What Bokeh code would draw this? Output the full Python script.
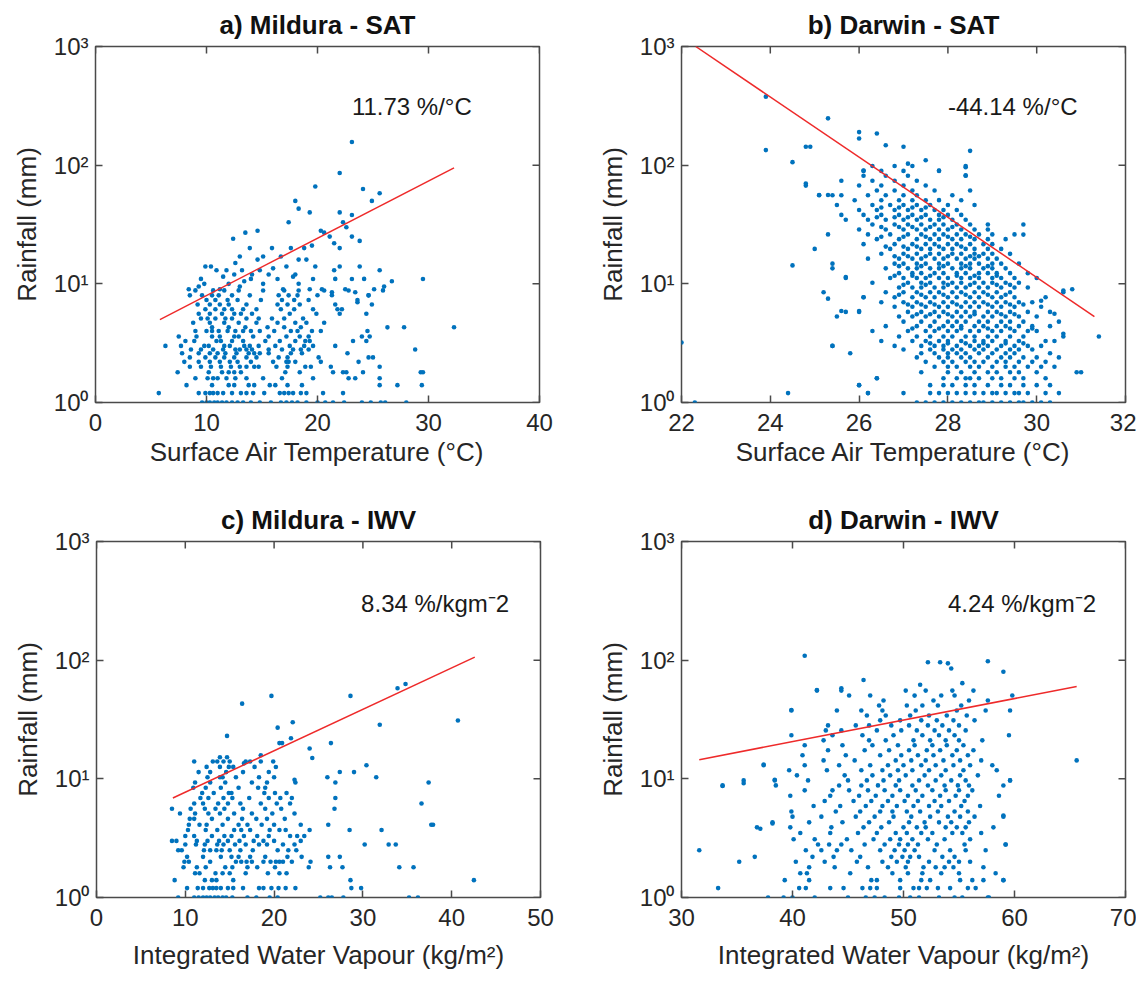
import math
from bokeh.plotting import figure
from bokeh.layouts import column, row
from bokeh.models import Range1d, FixedTicker, Label, CustomJSTickFormatter
from bokeh.embed import file_html
from bokeh.resources import INLINE

# ---------------- data ----------------
titles = ["a) Mildura - SAT", "b) Darwin - SAT", "c) Mildura - IWV", "d) Darwin - IWV"]
x_labels = ["Surface Air Temperature (°C)", "Surface Air Temperature (°C)",
            "Integrated Water Vapour (kg/m²)", "Integrated Water Vapour (kg/m²)"]
y_label = "Rainfall (mm)"
notes = ["11.73 %/°C", "-44.14 %/°C", "8.34 %/kgm⁻2", "4.24 %/kgm⁻2"]
y_ticks = [1, 10, 100, 1000]
a_xticks = [0, 10, 20, 30, 40]
b_xticks = [22, 24, 26, 28, 30, 32]
c_xticks = [0, 10, 20, 30, 40, 50]
d_xticks = [30, 40, 50, 60, 70]

# fitted regression lines (end points)
a_fit_x = [5.8, 32.3]
a_fit_y = [5.0, 95.0]
b_fit_x = [22.32, 31.3]
b_fit_y = [1000.0, 5.3]
c_fit_x = [8.6, 42.6]
c_fit_y = [6.9, 106.0]
d_fit_x = [31.6, 65.6]
d_fit_y = [14.5, 60.0]

# rows: (rainfall mm, [x values])
a_rows = [
    (1.0, [9.6, 10.0, 10.3, 10.7, 11.0, 11.4, 11.8, 12.3, 12.8, 13.3, 14.0, 14.8, 15.8, 16.7, 17.2, 17.7, 18.2, 19.0, 20.0, 20.7, 21.4, 22.4, 24.0, 24.8, 25.7, 26.1, 28.0]),
    (1.2, [5.7, 9.3, 9.9, 10.3, 10.6, 11.0, 11.5, 12.3, 13.1, 13.6, 14.2, 15.2, 16.6, 17.0, 17.4, 17.8, 18.5, 19.0, 20.5, 22.3]),
    (1.4, [8.2, 10.5, 12.0, 12.5, 13.8, 14.3, 15.7, 16.2, 17.3, 18.6, 25.6, 27.2, 29.4]),
    (1.6, [9.0, 10.1, 10.6, 11.0, 11.8, 12.6, 13.6, 15.1, 16.8, 19.6, 22.8, 23.4, 25.6]),
    (1.8, [7.4, 10.2, 11.4, 12.0, 12.5, 13.1, 17.1, 18.4, 21.4, 22.3, 22.6, 24.1, 29.3, 29.5]),
    (2.0, [8.5, 9.5, 10.4, 11.3, 12.2, 13.0, 13.6, 14.3, 14.7, 16.3, 17.3, 18.9, 19.4, 21.2, 25.6]),
    (2.2, [8.0, 9.3, 10.3, 11.2, 12.1, 12.8, 14.0, 16.0, 17.2, 17.4, 18.0, 20.3, 23.7]),
    (2.4, [8.5, 9.9, 10.8, 11.6, 12.5, 13.6, 14.5, 16.5, 17.3, 20.1, 24.6, 25.0]),
    (2.6, [7.8, 9.3, 10.3, 11.0, 11.7, 12.7, 13.8, 14.3, 14.8, 15.6, 17.6, 18.6, 22.7]),
    (2.8, [8.6, 9.5, 10.6, 11.5, 12.6, 13.0, 13.6, 14.1, 15.6, 16.8, 17.8, 18.5, 19.2, 28.8]),
    (3.0, [6.3, 7.7, 9.8, 10.2, 11.6, 12.1, 13.4, 13.9, 14.7, 16.2, 17.5, 18.8, 19.6, 21.6]),
    (3.3, [8.1, 8.9, 10.9, 11.3, 12.3, 13.3, 15.3, 16.6, 18.0, 18.9, 19.3, 23.2, 24.4]),
    (3.6, [7.5, 9.1, 10.5, 11.2, 12.5, 12.9, 14.2, 15.6, 17.2, 18.4, 19.2, 24.0, 24.7]),
    (4.0, [9.0, 10.0, 10.5, 11.1, 11.9, 12.6, 13.3, 14.0, 14.8, 16.1, 17.6, 18.2, 19.5, 20.3, 24.5]),
    (4.3, [10.5, 12.0, 13.5, 15.5, 17.0, 18.5, 26.3, 27.8, 32.3]),
    (4.7, [8.8, 10.3, 11.6, 12.9, 14.5, 16.4, 18.0, 19.0, 20.6]),
    (5.1, [9.5, 10.1, 10.8, 11.7, 12.3, 13.6, 14.7, 15.9, 17.0, 18.7]),
    (5.6, [9.3, 10.3, 11.4, 12.5, 13.1, 14.1, 17.5, 19.9, 22.0, 24.4]),
    (6.1, [9.9, 10.8, 11.6, 12.3, 13.3, 14.5, 16.7, 17.9, 19.6, 21.8, 22.2]),
    (6.7, [9.2, 10.3, 11.2, 12.0, 13.6, 16.4, 17.3, 18.4, 21.6, 24.9]),
    (7.3, [10.0, 10.8, 11.9, 12.8, 14.9, 16.8, 17.9, 19.2, 23.6]),
    (8.0, [8.5, 9.6, 10.5, 11.1, 12.3, 13.9, 16.5, 17.4, 18.2, 20.0, 21.3, 24.6]),
    (8.8, [9.0, 10.6, 11.6, 12.9, 15.1, 17.0, 18.3, 20.6, 22.8, 25.9]),
]
a_extra = [(23.1, 157), (22.0, 86), (19.8, 66), (24.1, 63), (25.6, 58), (24.9, 50), (18.0, 50),
           (18.3, 43), (19.3, 40), (22.0, 40), (23.1, 38), (17.4, 33), (20.3, 28), (20.6, 27),
           (22.3, 33), (22.6, 30), (14.6, 28), (12.4, 24), (13.5, 27), (23.1, 25), (21.1, 25),
           (23.8, 23), (21.5, 22), (15.9, 20), (13.9, 20), (17.6, 20), (18.8, 20), (22.0, 20),
           (19.5, 21), (16.7, 17), (14.6, 16), (15.1, 17), (13.0, 17), (12.6, 15), (18.3, 16),
           (19.0, 16), (19.8, 14), (17.2, 14), (22.0, 14), (23.8, 14), (25.6, 13), (21.5, 13),
           (10.4, 14), (9.9, 14), (10.9, 13), (11.8, 13), (12.5, 12), (13.2, 13), (14.1, 12),
           (14.8, 13), (15.6, 12), (16.4, 11), (18.0, 12), (19.6, 11), (21.6, 11), (24.2, 11),
           (29.5, 11), (26.7, 10.5), (23.1, 11), (8.4, 9), (9.3, 9.5), (9.8, 10), (11.2, 9),
           (12.0, 10), (13.4, 10.5), (14.0, 11), (15.1, 10), (16.9, 9), (18.3, 10), (19.3, 9),
           (20.4, 9), (21.3, 8.5), (22.5, 9), (23.4, 8.5), (25.1, 9), (26.0, 9.5), (24.6, 8),
           (23.6, 7), (9.5, 11), (11.5, 11.5), (13.0, 9.5), (16.0, 13.5), (17.8, 11.5)]

b_rows = [
    (1.0, [27.3, 27.5, 27.7, 27.9, 28.1, 28.3, 28.5, 28.7, 28.8, 29.0, 29.2, 29.4, 29.6, 29.7, 29.9, 30.1, 30.3]),
    (1.2, [24.4, 26.2, 27.0, 27.6, 27.8, 28.0, 28.2, 28.4, 28.6, 28.8, 29.0, 29.1, 29.3, 29.5, 29.6, 29.8, 30.2, 30.5]),
    (1.4, [26.0, 27.6, 27.9, 28.1, 28.4, 28.6, 28.9, 29.2, 29.4, 29.7, 30.0, 30.3]),
    (1.6, [26.4, 27.9, 28.2, 28.4, 28.5, 28.7, 29.0, 29.2, 29.5, 29.7, 30.2]),
    (1.8, [27.4, 28.0, 28.3, 28.6, 28.9, 29.1, 29.4, 29.6, 30.0, 31.0]),
    (2.0, [27.7, 28.0, 28.2, 28.5, 28.7, 29.0, 29.3, 29.5, 29.8, 30.1, 30.4]),
    (2.2, [27.5, 27.9, 28.1, 28.4, 28.6, 28.8, 29.1, 29.3, 29.6, 29.9, 30.2]),
    (2.4, [27.3, 27.8, 28.0, 28.3, 28.5, 28.9, 29.2, 29.4, 29.7, 30.0, 30.5]),
    (2.6, [25.8, 27.4, 27.7, 28.0, 28.2, 28.4, 28.7, 29.0, 29.3, 29.5, 30.3]),
    (2.8, [27.0, 27.6, 27.9, 28.1, 28.3, 28.6, 28.8, 29.1, 29.4, 29.6, 29.9]),
    (3.0, [25.4, 26.8, 27.4, 27.7, 27.9, 28.2, 28.5, 28.7, 28.9, 29.2, 29.5, 29.8, 30.1]),
    (3.15, [27.6, 28.0, 28.4, 28.8, 29.3, 29.7]),
    (3.3, [26.5, 27.2, 27.5, 27.8, 28.0, 28.3, 28.6, 28.8, 29.0, 29.3, 29.6, 30.4]),
    (3.6, [26.9, 27.3, 27.6, 27.9, 28.1, 28.4, 28.6, 28.9, 29.1, 29.4, 29.7, 30.6, 31.4]),
    (4.0, [26.3, 27.1, 27.5, 27.7, 28.0, 28.2, 28.5, 28.7, 29.0, 29.2, 29.5, 29.8, 30.0]),
    (4.2, [27.2, 27.8, 28.3, 28.9, 29.4, 29.9]),
    (4.4, [26.6, 27.3, 27.6, 27.9, 28.1, 28.3, 28.6, 28.8, 29.1, 29.3, 29.6, 29.9, 30.3]),
    (4.8, [27.0, 27.4, 27.7, 28.0, 28.2, 28.4, 28.7, 28.9, 29.2, 29.4, 29.7, 30.5]),
    (5.3, [25.5, 26.9, 27.2, 27.5, 27.8, 28.1, 28.3, 28.5, 28.8, 29.0, 29.3, 29.6, 30.0]),
    (5.55, [27.3, 27.6, 28.0, 28.6, 29.2, 29.5]),
    (5.8, [25.7, 26.0, 27.1, 27.4, 27.7, 27.9, 28.2, 28.4, 28.6, 28.9, 29.1, 29.4, 29.8, 30.3]),
    (6.4, [26.8, 27.2, 27.5, 27.8, 28.0, 28.3, 28.5, 28.7, 29.0, 29.2, 29.5, 30.1]),
    (6.7, [27.1, 27.4, 27.7, 28.2, 28.9, 29.4, 29.7]),
    (7.0, [26.5, 27.0, 27.3, 27.6, 27.9, 28.1, 28.4, 28.6, 28.8, 29.1, 29.3, 29.6, 29.9]),
    (7.7, [26.1, 26.8, 27.2, 27.5, 27.7, 28.0, 28.2, 28.5, 28.7, 29.0, 29.2, 29.5, 30.2]),
    (8.1, [26.9, 27.4, 27.9, 28.4, 28.9, 29.3]),
    (8.5, [25.2, 26.6, 27.0, 27.3, 27.6, 27.8, 28.1, 28.3, 28.6, 28.8, 29.1, 29.4, 30.6]),
    (9.3, [26.9, 27.2, 27.4, 27.7, 27.9, 28.2, 28.4, 28.7, 28.9, 29.2, 29.5, 29.8]),
    (9.8, [27.0, 27.5, 28.0, 28.5, 29.1, 29.4]),
    (10.2, [26.3, 27.1, 27.4, 27.6, 27.9, 28.1, 28.3, 28.6, 28.8, 29.0, 29.3, 29.6]),
    (11.2, [25.7, 26.7, 27.0, 27.3, 27.5, 27.8, 28.0, 28.3, 28.5, 28.7, 29.0, 29.2, 29.5, 30.0]),
    (11.7, [26.8, 27.2, 27.6, 28.2, 28.6, 29.1]),
    (12.3, [26.9, 27.2, 27.4, 27.7, 27.9, 28.2, 28.4, 28.7, 28.9, 29.1, 29.4, 29.8]),
    (13.5, [25.4, 26.6, 27.1, 27.3, 27.6, 27.8, 28.1, 28.3, 28.5, 28.8, 29.0, 29.3]),
    (14.1, [26.9, 27.4, 27.9, 28.4, 28.9]),
    (14.8, [26.8, 27.0, 27.3, 27.5, 27.8, 28.0, 28.3, 28.5, 28.7, 29.0, 29.2, 29.6]),
    (16.3, [26.2, 26.9, 27.2, 27.4, 27.7, 27.9, 28.2, 28.4, 28.6, 28.9, 29.1]),
    (17.1, [26.8, 27.1, 27.5, 28.0, 28.5, 28.7]),
    (17.9, [26.5, 27.0, 27.3, 27.6, 27.8, 28.1, 28.3, 28.6, 28.8, 29.0, 29.4]),
    (19.7, [25.0, 26.7, 27.1, 27.4, 27.6, 27.9, 28.1, 28.4, 28.6, 28.9, 29.2]),
    (20.6, [26.6, 27.0, 27.3, 27.8, 28.3]),
    (21.6, [26.1, 26.8, 27.2, 27.5, 27.7, 28.0, 28.2, 28.5, 28.8, 29.0]),
    (23.8, [26.4, 26.9, 27.3, 27.6, 27.8, 28.1, 28.3, 28.6, 28.9, 29.3]),
    (24.9, [26.5, 27.0, 27.5, 28.0, 28.5]),
    (26.1, [25.3, 26.2, 26.7, 27.1, 27.4, 27.7, 27.9, 28.2, 28.4, 28.7, 29.0, 29.5]),
    (28.7, [26.0, 26.6, 27.0, 27.3, 27.5, 27.8, 28.0, 28.3, 28.6, 28.9]),
    (30.1, [26.5, 26.9, 27.2, 27.6, 28.1]),
    (31.6, [26.3, 26.8, 27.1, 27.4, 27.7, 27.9, 28.2, 28.5, 28.9, 29.7]),
    (34.7, [25.7, 26.2, 26.6, 27.0, 27.3, 27.6, 27.8, 28.1, 28.4]),
    (36.4, [26.4, 26.8, 27.1, 27.4, 27.9]),
    (38.1, [25.6, 26.1, 26.5, 26.9, 27.2, 27.5, 27.8, 28.0, 28.3]),
    (41.9, [26.0, 26.4, 26.8, 27.1, 27.4, 27.7, 27.9, 28.2]),
    (44.0, [26.5, 26.9, 27.2, 27.5]),
    (46.1, [25.5, 26.3, 26.7, 27.0, 27.3, 27.6, 28.0, 28.6]),
    (50.7, [25.9, 26.5, 26.9, 27.2, 27.5, 27.8, 28.3]),
    (55.7, [25.1, 25.4, 25.6, 26.2, 26.6, 27.0, 27.3, 28.1]),
    (61.2, [26.4, 26.8, 27.2, 27.7, 28.5]),
    (67.3, [24.8, 26.0, 26.5, 27.0, 27.5]),
    (74.0, [25.6, 26.3, 26.8, 27.3]),
    (81.4, [26.1, 26.6, 27.1, 28.4]),
    (89.5, [26.1, 26.5, 27.0, 27.8]),
    (98.4, [26.3, 26.8, 27.2, 28.4]),
]
b_extra = [(22.0, 3.2), (22.3, 1.0), (23.9, 378), (23.9, 134), (24.5, 106), (24.8, 143),
           (24.9, 143), (24.8, 70), (25.3, 56), (25.1, 56), (24.5, 14.3), (25.3, 248),
           (25.4, 3.0), (26.0, 1.4), (26.2, 1.2), (26.4, 1.6), (26.0, 5.9), (25.6, 5.9),
           (25.3, 7.5), (25.7, 11.4), (26.1, 7.7), (25.4, 14.8), (26.0, 190), (26.0, 168),
           (26.4, 185), (26.6, 147), (27.0, 143), (28.5, 132), (27.5, 110), (27.1, 103),
           (26.1, 90), (28.4, 96), (28.4, 82), (27.8, 90), (30.4, 5.6), (30.6, 3.8),
           (30.9, 1.8), (30.2, 3.3), (30.1, 7.2), (29.7, 26), (30.8, 9.0), (30.6, 8.8)]

c_rows = [
    (1.0, [9.2, 11.0, 11.5, 12.0, 12.4, 12.8, 13.3, 13.7, 14.2, 14.6, 15.3, 17.0, 18.0, 19.5, 20.4, 25.2, 26.1, 26.5, 27.8, 35.2, 36.2]),
    (1.2, [10.2, 11.4, 12.0, 12.7, 13.1, 13.5, 14.0, 14.8, 15.4, 16.5, 18.3, 18.8, 19.7, 20.5, 21.3, 22.4, 28.7, 29.8]),
    (1.4, [8.8, 12.2, 13.0, 13.5, 15.4, 28.6, 42.5]),
    (1.6, [11.1, 11.6, 13.4, 14.2, 15.0, 16.8, 19.3, 20.6, 21.4]),
    (1.8, [9.8, 11.3, 12.3, 14.5, 15.3, 17.0, 18.1, 20.1, 23.9, 26.3, 27.7, 34.1, 35.7]),
    (2.0, [9.9, 10.4, 12.8, 15.7, 16.3, 16.9, 17.5, 18.8, 19.6, 20.2, 20.6, 21.0, 22.0, 24.1]),
    (2.2, [10.2, 12.0, 14.0, 15.2, 16.0, 17.3, 19.0, 21.5, 23.1, 26.1, 27.4]),
    (2.5, [9.2, 9.6, 12.1, 12.8, 13.5, 14.1, 15.0, 16.2, 17.6, 20.4, 21.6, 22.5]),
    (2.8, [10.0, 11.2, 12.2, 13.6, 14.3, 15.6, 16.8, 18.3, 19.2, 21.0, 22.3, 30.2, 32.9, 33.7]),
    (3.0, [8.5, 9.0, 11.3, 12.5, 13.8, 14.8, 16.1, 17.7, 18.8, 20.0, 23.0]),
    (3.3, [10.0, 11.0, 13.0, 14.4, 15.2, 16.6, 18.1, 19.4, 21.8, 22.6, 23.4]),
    (3.7, [10.3, 12.3, 13.6, 15.5, 16.3, 17.3, 19.5, 20.6, 21.3, 24.0, 28.5, 32.1]),
    (4.1, [10.4, 11.6, 12.4, 14.2, 16.0, 17.0, 18.6, 20.0, 23.0, 26.1, 37.7, 37.9]),
    (4.6, [10.5, 11.0, 13.0, 14.8, 16.4, 18.0, 19.2, 21.2]),
    (5.1, [9.4, 11.1, 12.6, 13.9, 15.5, 17.5, 19.8, 22.3]),
    (5.6, [8.5, 10.6, 12.2, 13.4, 14.4, 16.5, 19.0, 20.8, 26.8]),
    (6.2, [11.0, 12.0, 13.7, 14.8, 16.2, 18.5, 20.3, 21.8, 36.6]),
    (6.9, [11.7, 12.6, 14.3, 15.3, 17.2, 19.4, 20.7, 22.0, 26.9]),
    (7.6, [11.9, 13.2, 14.9, 15.2, 18.9, 20.1, 21.4]),
    (8.4, [10.9, 12.3, 14.0, 16.0, 18.2, 19.0]),
    (9.3, [11.1, 12.8, 14.5, 17.5, 19.2, 22.4, 26.9, 37.4]),
    (10.3, [12.5, 13.9, 14.2, 15.7, 18.3, 20.0, 26.0, 31.5]),
    (11.4, [11.5, 12.8, 14.6, 16.5, 19.4, 27.4, 29.0]),
    (12.6, [12.4, 13.9, 14.9, 15.4, 17.8, 20.2]),
    (14.0, [11.0, 13.1, 13.6, 14.3, 15.0, 16.8, 18.5, 19.9]),
]
c_extra = [(19.7, 50), (16.4, 43), (28.6, 50), (33.9, 58), (34.8, 63), (40.7, 31), (31.9, 28.6),
           (22.1, 30), (20.4, 27), (14.7, 23), (20.6, 20), (20.9, 20), (26.4, 20), (21.9, 22),
           (24.0, 18), (24.3, 15), (30.4, 13), (13.9, 15.2), (14.7, 15.2), (18.5, 15.8),
           (16.6, 13.5), (17.3, 14.0), (22.3, 9.8)]

d_rows = [
    (1.0, [37.8, 39.2, 40.0, 42.0, 45.0, 46.6, 47.4, 48.3, 49.6, 50.6, 51.4, 53.2, 54.6, 55.3, 57.7]),
    (1.2, [33.3, 40.6, 41.2, 43.4, 44.6, 46.3, 47.0, 47.6, 49.7, 50.9, 51.4, 52.1, 53.1, 54.2, 55.8, 56.5]),
    (1.4, [39.3, 41.5, 47.1, 47.6, 49.7, 51.6, 52.4, 55.1, 56.2, 57.2, 59.0]),
    (1.6, [40.7, 41.3, 45.2, 49.0, 50.4, 51.7, 53.4, 55.0, 58.3]),
    (1.8, [41.5, 43.8, 46.8, 48.6, 50.2, 51.8, 52.9, 53.7, 54.5, 57.2]),
    (2.0, [35.2, 40.3, 42.9, 45.8, 48.1, 49.4, 50.4, 52.3, 54.1, 55.0, 56.0]),
    (2.2, [36.6, 41.8, 43.7, 46.1, 48.9, 49.9, 50.6, 51.4, 53.5, 54.6]),
    (2.5, [31.6, 41.2, 42.6, 44.0, 45.3, 47.9, 49.2, 50.1, 51.0, 52.8, 54.2, 55.6, 57.4]),
    (2.8, [42.3, 43.3, 44.4, 46.5, 48.3, 49.6, 50.4, 51.3, 53.0, 55.5, 59.2]),
    (3.1, [40.1, 42.0, 44.9, 47.3, 48.8, 49.7, 50.8, 52.2, 53.7, 56.0]),
    (3.5, [40.7, 43.4, 45.9, 47.6, 49.3, 50.3, 51.6, 52.6, 54.4, 55.3, 57.0]),
    (3.9, [36.8, 39.8, 43.5, 46.4, 48.0, 50.0, 51.2, 52.0, 53.8, 54.8, 55.6, 58.1]),
    (4.3, [38.2, 41.5, 44.5, 46.9, 48.7, 50.5, 51.9, 53.2, 54.3, 55.9]),
    (4.8, [40.0, 42.6, 45.7, 47.4, 49.1, 50.7, 52.4, 54.0, 55.1, 56.4, 59.0]),
    (5.3, [39.9, 43.9, 46.1, 47.9, 49.0, 50.3, 51.5, 53.1, 54.6, 55.8]),
    (5.9, [41.9, 44.3, 46.6, 48.1, 49.4, 50.9, 52.3, 53.4, 55.2, 56.9]),
    (6.5, [42.9, 45.5, 47.1, 48.6, 50.1, 51.3, 52.8, 54.1, 55.5]),
    (7.2, [39.8, 43.4, 46.0, 47.5, 49.0, 50.4, 51.7, 53.3, 54.7, 55.8, 58.6]),
    (8.0, [41.1, 43.6, 45.1, 46.8, 48.3, 49.7, 51.1, 52.6, 53.8, 55.0, 56.2]),
    (8.8, [33.7, 38.5, 44.2, 46.2, 47.7, 49.3, 50.8, 52.2, 53.7, 54.9, 55.9, 59.0]),
    (9.7, [35.6, 38.4, 41.4, 45.0, 46.7, 48.2, 49.6, 51.4, 52.9, 54.3, 55.6, 59.6]),
    (10.7, [40.4, 44.7, 47.2, 48.8, 50.2, 51.9, 53.4, 55.1, 56.7]),
    (11.8, [39.7, 43.1, 46.2, 48.1, 49.5, 50.8, 52.3, 53.8, 55.4, 58.4]),
    (13.0, [37.4, 41.1, 44.2, 47.0, 48.6, 50.0, 51.6, 52.9, 54.5, 56.0, 58.0]),
    (14.3, [42.8, 45.6, 49.3, 50.7, 52.0, 53.6, 55.1, 57.0, 65.6]),
    (15.8, [40.9, 44.8, 47.9, 49.8, 51.3, 52.7, 54.4, 55.8]),
    (17.4, [43.2, 46.5, 48.7, 50.5, 52.1, 53.3, 54.8, 56.3]),
    (19.2, [41.1, 44.5, 47.2, 49.5, 51.0, 52.6, 53.9, 55.4]),
    (21.1, [42.8, 46.9, 48.4, 50.9, 52.4, 53.8, 55.0, 57.1]),
    (23.3, [39.9, 43.6, 46.3, 49.1, 51.7, 53.2, 54.6, 59.5]),
    (25.6, [43.0, 44.4, 47.6, 49.8, 51.2, 52.8, 54.1, 55.6]),
    (28.2, [43.2, 45.7, 46.9, 48.9, 50.5, 52.2, 53.5, 55.0]),
    (31.1, [47.9, 49.7, 51.6, 53.0, 54.5, 56.4]),
    (34.2, [46.7, 48.4, 50.6, 52.3, 53.9, 55.7]),
    (37.7, [39.9, 44.0, 46.2, 48.1, 51.1, 54.8, 57.4, 59.6]),
    (41.5, [47.8, 50.3, 51.7, 53.1, 55.2]),
    (45.7, [48.2, 52.7, 55.9, 57.6]),
    (50.3, [45.1, 47.0, 51.0, 53.4, 54.6, 59.8]),
    (55.4, [42.2, 44.4, 50.2, 52.0, 54.4, 56.3]),
]
d_extra = [(41.1, 109), (33.7, 8.7), (35.6, 9.2), (37.1, 3.8), (37.4, 13.2), (38.2, 4.2),
           (38.4, 9.8), (39.9, 38), (52.2, 96), (53.3, 96), (54.0, 94), (54.3, 85), (57.6, 98),
           (59.0, 80), (46.4, 68), (44.4, 58), (42.2, 56), (55.3, 64), (51.5, 62), (59.6, 9.7),
           (59.0, 4.9), (59.2, 2.8), (59.0, 1.4), (57.6, 1.0)]

# ---------------- styling ----------------
FONT = "Liberation Sans"
TXT = "#262626"
BOX = "#4a4a4a"
DOT = "#0072BD"
LINE = "#ee2a2a"


def expand(rows, extra):
    xs, ys = [], []
    for r, vals in rows:
        for v in vals:
            xs.append(v)
            ys.append(r)
    for v, r in extra:
        xs.append(v)
        ys.append(r)
    return xs, ys


ylab_fmt = CustomJSTickFormatter(code="""
const m = {1: '10\u2070', 10: '10\u00b9', 100: '10\u00b2', 1000: '10\u00b3'};
const k = Math.round(tick);
return (k in m) ? m[k] : String(tick);
""")


def panel(idx, rows, extra, fit_x, fit_y, xr, xticks, note_xy, bl, br, bt, bb, xlab_standoff):
    p = figure(frame_width=444, frame_height=356,
               x_range=Range1d(*xr), y_range=Range1d(1, 1000), y_axis_type="log",
               output_backend="svg", toolbar_location=None,
               min_border_left=bl, min_border_right=br, min_border_top=bt, min_border_bottom=bb,
               background_fill_color="white", border_fill_color="white")
    p.xgrid.visible = False
    p.ygrid.visible = False
    p.outline_line_color = BOX
    p.outline_line_width = 1.5

    p.title.text = titles[idx]
    p.title.align = "center"
    p.title.vertical_align = "top"
    p.title.text_font = FONT
    p.title.text_font_size = "26px"
    p.title.text_font_style = "bold"
    p.title.text_color = "#111111"
    p.title.standoff = 10

    xa = p.xaxis[0]
    xa.ticker = FixedTicker(ticks=xticks)
    xa.axis_label = x_labels[idx]
    ya = p.yaxis[0]
    ya.ticker = FixedTicker(ticks=y_ticks)
    ya.formatter = ylab_fmt
    ya.axis_label = y_label
    for ax in (xa, ya):
        ax.axis_line_color = None
        ax.major_tick_in = 7
        ax.major_tick_out = 0
        ax.major_tick_line_color = BOX
        ax.major_tick_line_width = 1.5
        ax.minor_tick_line_color = None
        ax.major_label_text_font = FONT
        ax.major_label_text_font_size = "24px"
        ax.major_label_text_color = TXT
        ax.axis_label_text_font = FONT
        ax.axis_label_text_font_size = "26px"
        ax.axis_label_text_font_style = "normal"
        ax.axis_label_text_color = TXT
    xa.major_label_standoff = 11
    xa.axis_label_standoff = xlab_standoff
    ya.major_label_standoff = 7
    ya.axis_label_standoff = 9

    # mirrored inward ticks on top and right edges (markers are clipped to the frame)
    p.scatter(xticks, [1000] * len(xticks), marker="dash", angle=math.pi / 2, size=14,
              line_color=BOX, line_width=1.5)
    p.scatter([xr[1]] * len(y_ticks), y_ticks, marker="dash", size=14,
              line_color=BOX, line_width=1.5)

    xs, ys = expand(rows, extra)
    p.scatter(xs, ys, size=4.6, marker="circle", fill_color=DOT, line_color=None)
    p.line(fit_x, fit_y, line_color=LINE, line_width=1.5)

    p.add_layout(Label(x=note_xy[0], y=note_xy[1], text=notes[idx], text_font=FONT,
                       text_font_size="24px", text_color="#1a1a1a",
                       text_align="left", text_baseline="middle"))
    return p


pa = panel(0, a_rows, a_extra, a_fit_x, a_fit_y, (0, 40), a_xticks, (23.1, 311), 95, 33, 46, 88, 3)
pb = panel(1, b_rows, b_extra, b_fit_x, b_fit_y, (22, 32), b_xticks, (28.0, 311), 109, 11, 46, 88, 3)
pc = panel(2, c_rows, c_extra, c_fit_x, c_fit_y, (0, 50), c_xticks, (29.8, 300), 96, 32, 51, 80, 11)
pd = panel(3, d_rows, d_extra, d_fit_x, d_fit_y, (30, 70), d_xticks, (54.0, 300), 109, 11, 51, 80, 11)

layout = column(row(pa, pb), row(pc, pd))
open("out.html", "w").write(file_html(layout, INLINE))
